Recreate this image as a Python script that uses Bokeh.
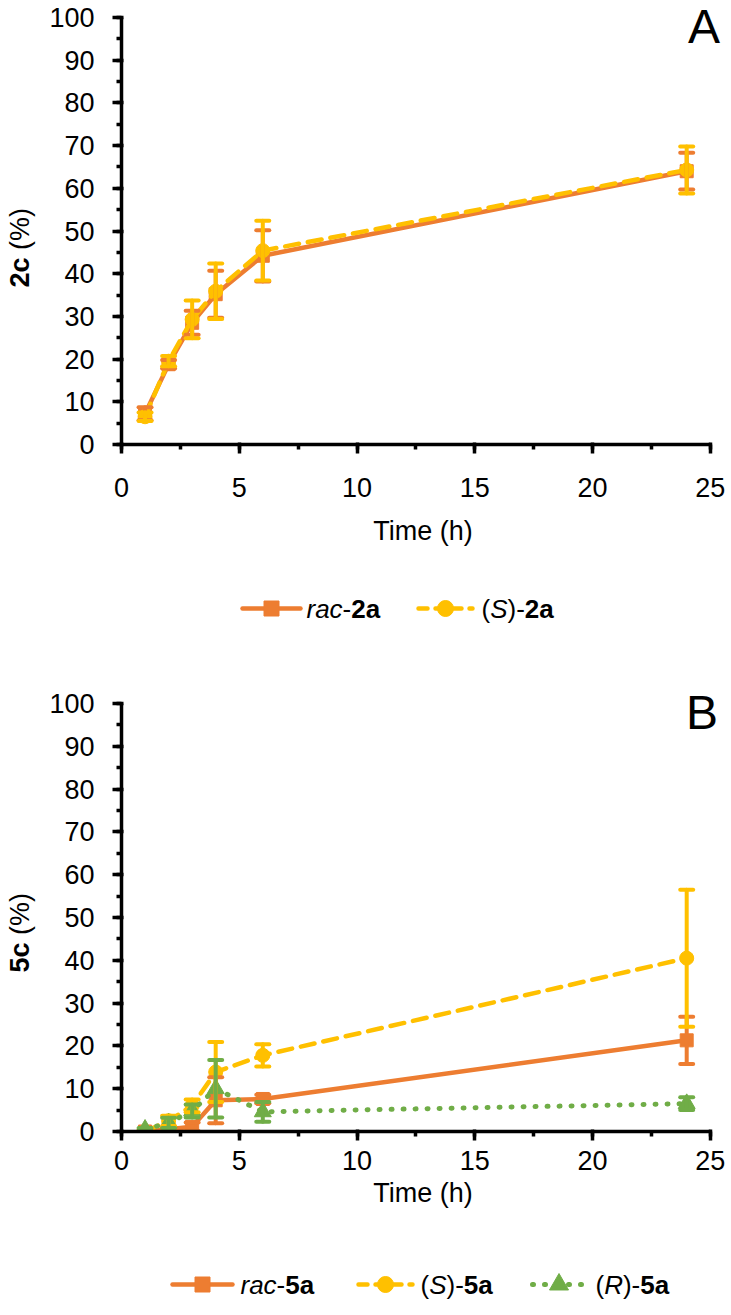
import math
from bokeh.plotting import figure
from bokeh.models import Range1d, ColumnDataSource, Whisker, TeeHead, SingleIntervalTicker
from bokeh.layouts import column, row
from bokeh.core.properties import value
from bokeh.embed import file_html
from bokeh.resources import INLINE

# ---------------- data ----------------
time_h = [1, 2, 3, 4, 6, 24]

rac_2a = [7.2, 18.8, 28.5, 35.2, 44.2, 64.0]
rac_2a_err = [1.5, 1.0, 2.8, 5.5, 6.0, 4.3]
s_2a = [6.5, 19.5, 29.3, 35.9, 45.4, 64.3]
s_2a_err = [1.0, 1.2, 4.4, 6.5, 7.0, 5.5]

rac_5a = [0.0, 0.5, 1.1, 7.3, 7.6, 21.3]
rac_5a_err = [0.3, 0.5, 1.0, 5.4, 1.0, 5.5]
s_5a = [0.0, 2.5, 6.0, 13.9, 17.8, 40.5]
s_5a_err = [0.3, 1.2, 1.5, 7.0, 2.6, 16.0]
r_5a = [0.5, 2.0, 4.8, 10.0, 4.6, 6.5]
r_5a_err = [0.3, 1.2, 1.5, 6.7, 2.3, 1.5]

x_ticks_interval = 5
y_ticks_interval = 10

ylabel_a = [("2c", "bold"), (" ", "normal"), ("(%)", "normal")]
ylabel_b = [("5c", "bold"), (" ", "normal"), ("(%)", "normal")]
legend_a = [[("rac", "italic"), ("-", "normal"), ("2a", "bold")],
            [("(", "normal"), ("S", "italic"), (")-", "normal"), ("2a", "bold")]]
legend_b = [[("rac", "italic"), ("-", "normal"), ("5a", "bold")],
            [("(", "normal"), ("S", "italic"), (")-", "normal"), ("5a", "bold")],
            [("(", "normal"), ("R", "italic"), (")-", "normal"), ("5a", "bold")]]

ORANGE = "#ED7D31"
YELLOW = "#FFC000"
GREEN = "#70AD47"
FONT = "Liberation Sans"

STY_RAC = dict(color=ORANGE, marker="square", msize=13, dash="solid")
STY_S = dict(color=YELLOW, marker="circle", msize=14, dash="14 9")
STY_R = dict(color=GREEN, marker="triangle", msize=17, dash="1 11")

W = 729
LABW = 40
LEFT = 121 - LABW
RIGHT = 5

# Arial-like advance widths (em)
REG = {'r': .333, 'a': .556, 'c': .5, '-': .333, '(': .333, ')': .333, 'S': .667,
       'R': .722, ' ': .278, '%': .889, '2': .556, '5': .556}
BOLD = {'2': .556, '5': .556, 'a': .556, 'c': .556}


def text_width(t, style, size):
    tab = BOLD if style == "bold" else REG
    return sum(tab.get(ch, REG.get(ch, .556)) for ch in t) * size


def blank_fig(width, height, xr, yr):
    q = figure(width=width, height=height, x_range=xr, y_range=yr,
               output_backend="svg", toolbar_location=None, min_border=0,
               x_axis_location=None, y_axis_location=None)
    q.frame_align = False
    q.xgrid.visible = False
    q.ygrid.visible = False
    q.outline_line_color = None
    return q


def style_axes(p, tick_standoff, label_standoff):
    p.xaxis.ticker = SingleIntervalTicker(interval=x_ticks_interval, num_minor_ticks=2)
    p.yaxis.ticker = SingleIntervalTicker(interval=y_ticks_interval, num_minor_ticks=2)
    p.xaxis.bounds = (0, 25)
    p.yaxis.bounds = (0, 100)
    for ax in (p.xaxis[0], p.yaxis[0]):
        ax.axis_line_width = 3.5
        ax.axis_line_color = "black"
        ax.major_tick_line_width = 3.5
        ax.major_tick_line_color = "black"
        ax.major_tick_out = 9
        ax.major_tick_in = 2
        ax.minor_tick_line_width = 3.5
        ax.minor_tick_line_color = "black"
        ax.minor_tick_out = 5
        ax.minor_tick_in = 0
        ax.major_label_text_font = FONT
        ax.major_label_text_font_size = "27px"
        ax.major_label_text_color = "black"
    p.yaxis.major_label_standoff = 18
    p.xaxis.major_label_standoff = tick_standoff
    p.xaxis.axis_label = "Time (h)"
    p.xaxis.axis_label_text_font = FONT
    p.xaxis.axis_label_text_font_size = "27px"
    p.xaxis.axis_label_text_font_style = "normal"
    p.xaxis.axis_label_text_color = "black"
    p.xaxis.axis_label_standoff = label_standoff
    p.xgrid.visible = False
    p.ygrid.visible = False
    p.outline_line_color = None


def add_series(p, x, y, err, sty):
    c = sty["color"]
    lw = 4.5 if sty["dash"] != "1 11" else 5
    p.line(x, y, line_color=c, line_width=lw, line_dash=sty["dash"],
           line_cap="round", line_join="round")
    src = ColumnDataSource(dict(x=x, lo=[a - b for a, b in zip(y, err)],
                                hi=[a + b for a, b in zip(y, err)]))
    w = Whisker(source=src, base="x", lower="lo", upper="hi", dimension="height",
                line_color=c, line_width=4, line_cap="round",
                upper_head=TeeHead(size=13, line_color=c, line_width=4, line_cap="round"),
                lower_head=TeeHead(size=13, line_color=c, line_width=4, line_cap="round"))
    w.level = "glyph"
    p.add_layout(w)
    p.scatter(x, y, marker=sty["marker"], size=sty["msize"], fill_color=c, line_color=c, line_width=1)


def ylabel_fig(height, pieces, bottom_from_top):
    # rotated label, built of bold + regular pieces, reading bottom to top
    q = blank_fig(LABW, height, Range1d(0, LABW), Range1d(0, height))
    y = height - bottom_from_top   # distance from bottom where text starts
    for t, st in pieces:
        w = text_width(t, st, 27)
        if t.strip():
            q.text([19], [y + w / 2], text=[t], angle=math.pi / 2,
                   text_font=value(FONT), text_font_size="27px", text_font_style=st,
                   text_color="black", text_align="center", text_baseline="middle")
        y += w
    return q


def panel(height, top, bottom, y_end, series, letter, lx, ly, tick_standoff, label_standoff):
    p = figure(width=W - LABW, height=height,
               x_range=Range1d(0, (W - LABW - LEFT - RIGHT) / 23.55),
               y_range=Range1d(0, y_end),
               output_backend="svg", toolbar_location=None,
               min_border_left=LEFT, min_border_right=RIGHT, min_border_top=top,
               min_border_bottom=bottom)
    p.frame_align = False
    p.background_fill_color = "white"
    style_axes(p, tick_standoff, label_standoff)
    for x, y, e, s in series:
        add_series(p, x, y, e, s)
    p.text([lx], [ly], text=[letter], text_align="center", text_baseline="middle",
           text_font=value(FONT), text_font_size="48px", text_color="black")
    return p


def legend_fig(height, items, mid):
    q = blank_fig(W, height, Range1d(0, W), Range1d(height, 0))
    for (x0, x1, sty, tx, pieces) in items:
        c = sty["color"]
        lw = 4.5 if sty["dash"] != "1 11" else 5
        dash = "9 8" if sty["dash"] == "14 9" else sty["dash"]
        q.line([x0, x1], [mid, mid], line_color=c, line_width=lw, line_dash=dash, line_cap="round")
        q.scatter([(x0 + x1) / 2], [mid], marker=sty["marker"], size=sty["msize"] + 2,
                  fill_color=c, line_color=c)
        cx = tx
        for t, st in pieces:
            q.text([cx], [mid], text=[t], text_font=value(FONT), text_font_size="26px",
                   text_font_style=st, text_color="black", text_align="left",
                   text_baseline="middle")
            cx += text_width(t, st, 26)
    return q


# vertical layout: 570 + 66 + 585 + 78 = 1299
HA, HLA, HB, HLB = 570, 66, 585, 78
pA = panel(HA, 8, 126, 100 + 9 / 4.27,
           [(time_h, rac_2a, rac_2a_err, STY_RAC), (time_h, s_2a, s_2a_err, STY_S)],
           "A", 24.73, 97.9, 24, 16)
labA = ylabel_fig(HA, ylabel_a, 287)
legA = legend_fig(HLA, [(242, 300, STY_RAC, 306, legend_a[0]),
                        (418, 472, STY_S, 481, legend_a[1])], 38)
topB = HA + HLA
pB = panel(HB, 703 - 8 - topB, HB - (703 - 8 - topB) - 436, 100 + 8 / 4.28,
           [(time_h, rac_5a, rac_5a_err, STY_RAC), (time_h, s_5a, s_5a_err, STY_S),
            (time_h, r_5a, r_5a_err, STY_R)],
           "B", 24.65, 97.9, 10, 5)
labB = ylabel_fig(HB, ylabel_b, 972 - topB)
legB = legend_fig(HLB, [(172, 232, STY_RAC, 240, legend_b[0]),
                        (358, 412, STY_S, 420, legend_b[1]),
                        (532, 585, STY_R, 595, legend_b[2])], 63)

layout = column(row(labA, pA, spacing=0), legA, row(labB, pB, spacing=0), legB, spacing=0)
open("out.html", "w").write(file_html(layout, INLINE))
